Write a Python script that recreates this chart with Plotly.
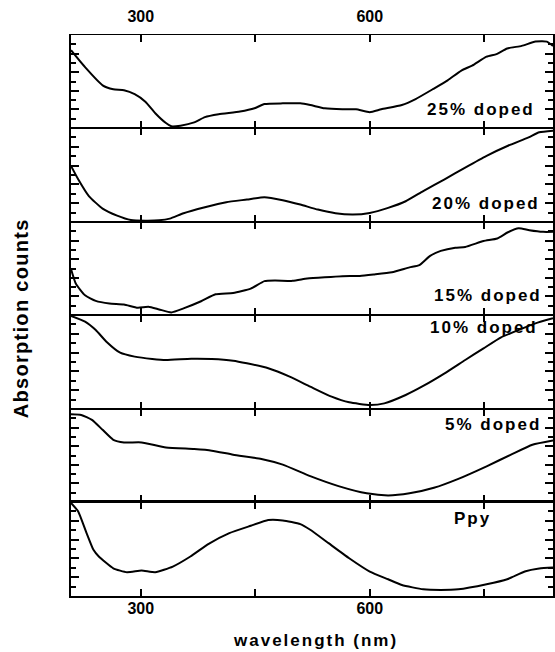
import plotly.graph_objects as go

# ---------------- data ----------------
wl_25 = [208.6, 227, 250, 264, 278, 292, 306, 319, 333, 340, 352, 370, 384, 402, 430, 449, 462, 486, 509,
         522, 541, 564, 582, 600, 615, 642, 660, 684, 702, 720, 734, 753, 766, 780, 799, 817, 832, 840]
abs_25 = [8.37, 6.54, 4.59, 4.17, 4.06, 3.64, 2.83, 1.59, 0.53, 0.18, 0.25, 0.6, 1.17, 1.48, 1.77, 2.12, 2.58,
          2.65, 2.65, 2.47, 2.12, 2.01, 2.01, 1.70, 2.01, 2.47, 3.11, 4.24, 5.12, 6.18, 6.71, 7.67, 7.95, 8.55,
          8.83, 9.29, 9.29, 8.83]

wl_20 = [208.6, 218, 232, 250, 269, 287, 306, 324, 338, 356, 384, 412, 439, 462, 486, 509, 532, 555, 578,
         600, 624, 647, 670, 698, 725, 753, 781, 808, 822, 840]
abs_20 = [5.96, 4.54, 2.75, 1.43, 0.68, 0.21, 0.14, 0.18, 0.36, 0.93, 1.57, 2.11, 2.39, 2.64, 2.32, 1.86, 1.32,
          0.93, 0.79, 0.96, 1.5, 2.21, 3.29, 4.54, 5.79, 7.04, 8.11, 9.0, 9.54, 9.71]

wl_15 = [208.6, 215, 227, 241, 259, 278, 296, 310, 324, 340, 356, 379, 398, 421, 444, 462, 476, 499, 518,
         541, 564, 587, 605, 629, 652, 665, 679, 693, 712, 725, 749, 767, 781, 795, 809, 827, 840]
abs_15 = [4.95, 3.36, 2.12, 1.52, 1.24, 1.13, 0.78, 0.88, 0.6, 0.28, 0.71, 1.48, 2.23, 2.37, 2.83, 3.64, 3.71,
          3.67, 3.92, 4.06, 4.17, 4.2, 4.35, 4.59, 5.12, 5.37, 6.36, 6.89, 7.24, 7.31, 7.95, 8.23, 8.9, 9.33,
          9.12, 8.94, 8.94]

wl_10 = [208.6, 227, 241, 255, 273, 292, 315, 333, 366, 393, 421, 439, 467, 495, 522, 550, 573, 600, 619,
         647, 670, 698, 725, 749, 772, 795, 817, 840]
abs_10 = [9.9, 9.29, 8.4, 7.16, 5.99, 5.57, 5.32, 5.21, 5.35, 5.32, 5.14, 4.86, 4.33, 3.44, 2.38, 1.31, 0.71,
          0.43, 0.6, 1.49, 2.45, 3.79, 5.21, 6.45, 7.62, 8.4, 9.11, 9.65]

wl_5 = [208.6, 222, 236, 250, 264, 278, 301, 333, 370, 393, 421, 458, 486, 522, 559, 596, 624, 652, 684,
        716, 753, 785, 813, 840]
abs_5 = [9.43, 9.36, 8.83, 7.76, 6.69, 6.41, 6.41, 5.87, 5.69, 5.52, 5.09, 4.63, 4.02, 2.78, 1.71, 0.93, 0.71,
         0.93, 1.53, 2.49, 3.84, 5.09, 6.16, 6.62]

wl_ppy = [208.6, 218, 229, 238, 245, 264, 282, 301, 319, 342, 365, 389, 416, 444, 467, 486, 509, 522, 546,
          573, 600, 624, 642, 670, 693, 716, 753, 780, 803, 822, 840]
abs_ppy = [9.9, 9.0, 6.69, 4.91, 4.2, 2.95, 2.53, 2.7, 2.53, 3.13, 4.2, 5.55, 6.69, 7.47, 8.08, 8.04, 7.65,
           7.05, 5.62, 4.02, 2.6, 1.78, 1.17, 0.71, 0.64, 0.71, 1.25, 1.78, 2.6, 2.92, 3.02]

series_names = ["25% doped", "20% doped", "15% doped", "10% doped", "5% doped", "Ppy"]
series_x = [wl_25, wl_20, wl_15, wl_10, wl_5, wl_ppy]
series_y = [abs_25, abs_20, abs_15, abs_10, abs_5, abs_ppy]

x_tickvals = [300, 450, 600, 750]
x_ticktext = ["300", "", "600", ""]
x_range = [208.6, 840]
y_range = [0, 10]

# ---------------- figure ----------------
W, H = 555, 652
ML, MR, MT, MB = 71, 0, 35, 56
FONT = "Liberation Sans, Arial, sans-serif"
PH = H - MT - MB
panel_edges_px = [35, 128, 222, 315, 409, 502, 596]

fig = go.Figure()
layout = {}
for i, (nm, xs, ys) in enumerate(zip(series_names, series_x, series_y)):
    n = i + 1
    xname = "x" if n == 1 else f"x{n}"
    yname = "y" if n == 1 else f"y{n}"
    fig.add_trace(go.Scatter(x=xs, y=ys, mode="lines", name=nm, xaxis=xname, yaxis=yname,
                             line=dict(color="black", width=2, shape="spline", smoothing=0.5),
                             showlegend=False, hoverinfo="skip"))
    top_px, bot_px = panel_edges_px[i], panel_edges_px[i + 1]
    dom = [(H - MB - bot_px) / PH, (H - MB - top_px) / PH]
    xa = dict(range=x_range, tickvals=x_tickvals, ticktext=x_ticktext, ticks="inside", ticklen=7,
              tickwidth=1.5, tickcolor="black", showline=True, linecolor="black", linewidth=1.3,
              mirror="ticks", showgrid=False, zeroline=False, anchor=yname,
              tickfont=dict(family=FONT, size=16, color="black", weight="bold"))
    if n == 1:
        xa.update(side="top", showticklabels=True, ticklabelstandoff=5)
    elif n == 6:
        xa.update(showticklabels=True, linewidth=2, ticklabelstandoff=-3)
    else:
        xa.update(showticklabels=False)
    if n > 1:
        xa["matches"] = "x"
    ya = dict(domain=dom, range=y_range, dtick=2, tick0=0, ticks="inside", ticklen=8,
              tickwidth=1.5, tickcolor="black", showticklabels=False, showline=True,
              linecolor="black", linewidth=2, mirror="ticks", showgrid=False, zeroline=False,
              anchor=xname,
              minor=dict(dtick=1, tick0=0, ticks="inside", ticklen=5, tickwidth=1.5,
                         tickcolor="black", showgrid=False))
    layout["xaxis" if n == 1 else f"xaxis{n}"] = xa
    layout["yaxis" if n == 1 else f"yaxis{n}"] = ya


def px_to_paper(px, py):
    return (px - ML) / (W - ML - MR), (H - MB - py) / PH


label_px = [(483, 109), (488, 203), (490, 295), (486, 328), (495, 424), (475, 518)]
annots = []
for nm, (px, py) in zip(series_names, label_px):
    ax, ay = px_to_paper(px, py)
    annots.append(dict(x=ax, y=ay, xref="paper", yref="paper", text=nm, showarrow=False,
                       xanchor="center", yanchor="middle",
                       font=dict(family=FONT, size=17, color="black", weight="bold")))

tx, ty = px_to_paper(317, 640)
annots.append(dict(x=tx, y=ty, xref="paper", yref="paper", text="wavelength (nm)", showarrow=False,
                   xanchor="center", yanchor="middle",
                   font=dict(family=FONT, size=17, color="black", weight="bold")))
yx, yy = px_to_paper(21, 318)
annots.append(dict(x=yx, y=yy, xref="paper", yref="paper", text="Absorption counts", showarrow=False,
                   xanchor="center", yanchor="middle", textangle=-90,
                   font=dict(family=FONT, size=20, color="black", weight="bold")))

fig.update_layout(width=W, height=H, margin=dict(l=ML, r=MR, t=MT, b=MB, pad=0),
                  paper_bgcolor="white", plot_bgcolor="white", annotations=annots,
                  font=dict(family=FONT, color="black"), **layout)

post = """
var sp = {'wavelength (nm)': '2px', 'Absorption counts': '1.3px'};
document.querySelectorAll('.annotation-text').forEach(function(t){
  var s = sp[t.textContent];
  t.style.letterSpacing = s ? s : '2px';
});
"""
fig.write_html("out.html", post_script=post)
